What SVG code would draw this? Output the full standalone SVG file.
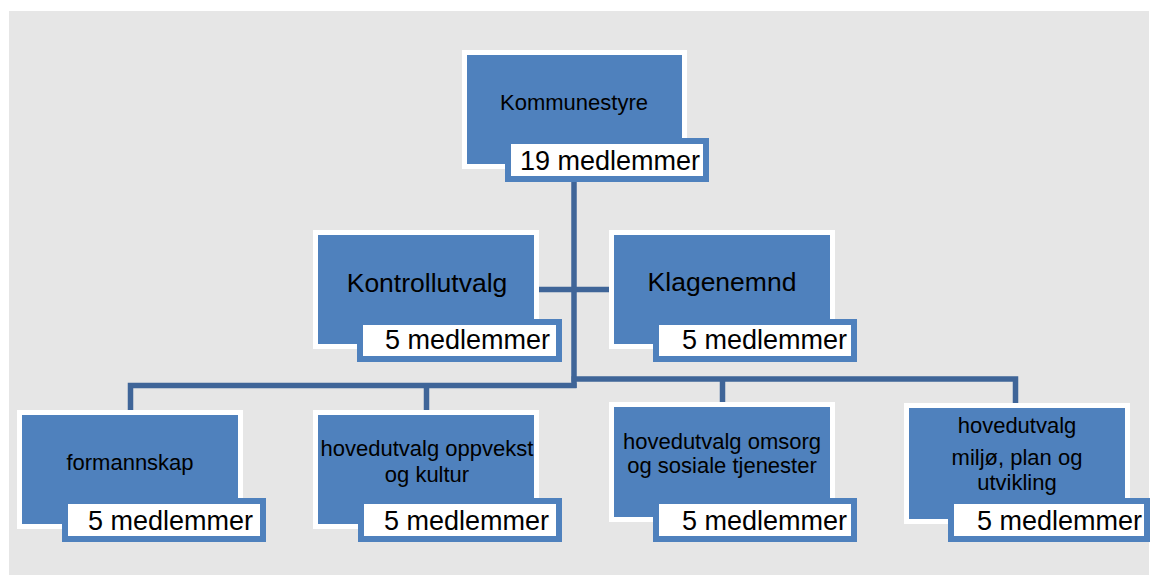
<svg xmlns="http://www.w3.org/2000/svg" width="1151" height="575" viewBox="0 0 1151 575">
<style>
.node{fill:#4F81BD;stroke:#FFFFFF;stroke-width:5}
.lab{fill:#FFFFFF;stroke:#4F81BD;stroke-width:6}
.conn{fill:none;stroke:#3F6598;stroke-width:5.5}
text{font-family:"Liberation Sans",Arial,sans-serif;fill:#000}
.t{font-size:22px;text-anchor:middle}
.tb{font-size:26.5px;text-anchor:middle}
.m{font-size:27px;text-anchor:end}
</style>
<rect x="9" y="11" width="1140" height="564" fill="#E6E6E6"/>
<g id="connectors">
<path class="conn" d="M574,182 V388"/>
<path class="conn" d="M539,289.5 H609"/>
<path class="conn" d="M130.5,410 V385.5 H576.5"/>
<path class="conn" d="M426.5,410 V385.5"/>
<path class="conn" d="M571.5,379 H1015.5 V403"/>
<path class="conn" d="M722.5,379 V402"/>
</g>
<g id="kommunestyre">
<rect class="node" x="464.5" y="52.5" width="220" height="114"/>
<text class="t" x="574" y="110">Kommunestyre</text>
<rect class="lab" x="508" y="141" width="198" height="38"/>
<text class="m" x="700" y="170">19 medlemmer</text>
</g>
<g id="kontrollutvalg">
<rect class="node" x="315.5" y="232.5" width="221" height="114"/>
<text class="tb" x="427" y="292">Kontrollutvalg</text>
<rect class="lab" x="360" y="322" width="199" height="37"/>
<text class="m" x="550" y="349">5 medlemmer</text>
</g>
<g id="klagenemnd">
<rect class="node" x="611.5" y="232.5" width="221" height="114"/>
<text class="tb" x="722" y="291">Klagenemnd</text>
<rect class="lab" x="656" y="322" width="198" height="37"/>
<text class="m" x="847" y="349">5 medlemmer</text>
</g>
<g id="formannskap">
<rect class="node" x="19.5" y="412.5" width="221" height="114"/>
<text class="t" x="130" y="470">formannskap</text>
<rect class="lab" x="65" y="501" width="198" height="38"/>
<text class="m" x="253" y="530">5 medlemmer</text>
</g>
<g id="oppvekst">
<rect class="node" x="315.5" y="412.5" width="221" height="114"/>
<text class="t" x="427" y="456">hovedutvalg oppvekst</text>
<text class="t" x="427" y="482">og kultur</text>
<rect class="lab" x="361" y="501" width="198" height="38"/>
<text class="m" x="549" y="530">5 medlemmer</text>
</g>
<g id="omsorg">
<rect class="node" x="611.5" y="404.5" width="221" height="115"/>
<text class="t" x="722" y="449">hovedutvalg omsorg</text>
<text class="t" x="722" y="473">og sosiale tjenester</text>
<rect class="lab" x="656" y="501" width="198" height="38"/>
<text class="m" x="847" y="530">5 medlemmer</text>
</g>
<g id="miljo">
<rect class="node" x="906.5" y="405.5" width="221" height="116"/>
<text class="t" x="1017" y="433">hovedutvalg</text>
<text class="t" x="1017" y="465">miljø, plan og</text>
<text class="t" x="1017" y="490">utvikling</text>
<rect class="lab" x="951" y="501" width="196" height="38"/>
<text class="m" x="1142" y="530">5 medlemmer</text>
</g>
</svg>
